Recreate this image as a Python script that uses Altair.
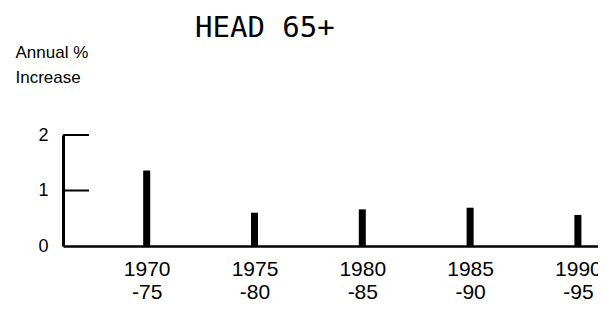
import altair as alt
import pandas as pd
import json

title_text = "HEAD 65+"
periods = ["1970-75", "1975-80", "1980-85", "1985-90", "1990-95"]
label_top = ["1970", "1975", "1980", "1985", "1990"]
label_bottom = ["-75", "-80", "-85", "-90", "-95"]
values = [1.36, 0.60, 0.66, 0.69, 0.56]
y_ticks = [0, 1, 2]
tick_marks = [1, 2]

df = pd.DataFrame({"idx": list(range(len(periods))), "period": periods, "value": values})
ticks_df = pd.DataFrame({"t": tick_marks})
title_df = pd.DataFrame({"title": [title_text]})

labels_js = json.dumps([f"{a}|{b}" for a, b in zip(label_top, label_bottom)])
label_expr = f"split({labels_js}[datum.value], '|')"

FONT = "Liberation Sans"

x_scale = alt.Scale(domain=[-0.73, 4.14], nice=False, zero=False)
y_scale = alt.Scale(domain=[0, 2], nice=False)

y_axis = alt.Axis(values=y_ticks, format=".0f",
                  ticks=False, tickSize=0, grid=False,
                  domainColor="black", domainWidth=3,
                  labelFont=FONT, labelFontSize=18, labelColor="black",
                  labelPadding=15, labelFlush=False, labelOverlap=False,
                  title=["Annual %", "Increase"], titleAngle=0,
                  titleAlign="left", titleBaseline="alphabetic",
                  titleX=-48, titleY=-78, titleFont=FONT,
                  titleFontSize=17, titleFontWeight="normal",
                  titleColor="black", titleLineHeight=25)

bars = alt.Chart(df).mark_bar(size=7, color="black").encode(
    x=alt.X("idx:Q", scale=x_scale,
            axis=alt.Axis(values=list(range(len(periods))), labelExpr=label_expr,
                          ticks=False, tickSize=0, grid=False, title=None,
                          domainColor="black", domainWidth=2.5,
                          labelFont=FONT, labelFontSize=21, labelColor="black",
                          labelBaseline="alphabetic", labelPadding=29,
                          labelLineHeight=23, labelFlush=False, labelOverlap=False)),
    y=alt.Y("value:Q", scale=y_scale, axis=y_axis),
)

tick_rules = alt.Chart(ticks_df).mark_rule(color="black", strokeWidth=2).encode(
    y=alt.Y("t:Q", scale=y_scale, axis=y_axis),
    x=alt.value(0),
    x2=alt.value(26),
)

title_mark = alt.Chart(title_df).mark_text(
    font="DejaVu Sans Mono", fontSize=29, color="black",
    align="left", baseline="alphabetic",
).encode(
    text="title:N",
    x=alt.value(132),
    y=alt.value(-98),
)

chart = alt.layer(bars, tick_rules, title_mark).properties(
    width=535, height=111,
    autosize=alt.AutoSizeParams(type="none"),
    padding={"left": 55, "top": 127, "right": 0, "bottom": 55},
).configure_view(stroke=None)

chart.save("out.html", embed_options={"renderer": "svg", "actions": False})
